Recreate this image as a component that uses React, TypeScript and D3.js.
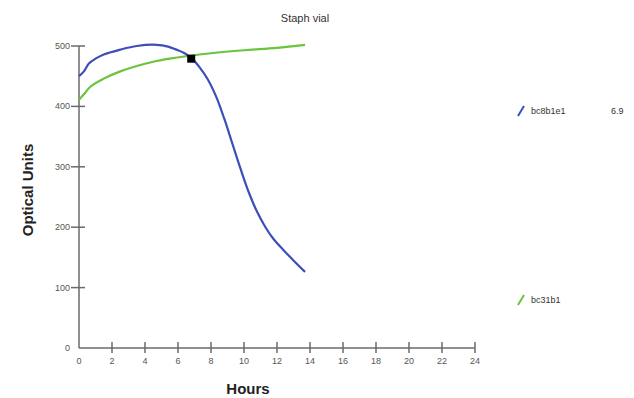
import * as d3 from "d3";

const hoursBlue = [0, 0.3, 0.6, 1.0, 1.5, 2.5, 3.5, 4.7, 5.4, 5.9, 6.4, 6.85, 7.3, 7.8, 8.3, 8.8, 9.3, 9.8, 10.3, 10.8, 11.3, 11.8, 12.4, 13.0, 13.7];
const valuesBlue = [450, 458, 471, 479, 486, 494, 500, 502, 499, 494, 488, 479, 465, 445, 417, 380, 338, 296, 257, 225, 200, 180, 162, 145, 126];
const hoursGreen = [0, 0.3, 0.7, 1.5, 2.5, 3.5, 4.5, 5.5, 6.5, 8, 10, 12, 13.7];
const valuesGreen = [411, 420, 433, 446, 458, 467, 474, 479, 483, 488, 493, 497, 502];
const xTicks = [0, 2, 4, 6, 8, 10, 12, 14, 16, 18, 20, 22, 24];
const yTicks = [0, 100, 200, 300, 400, 500];
const marker = { hour: 6.8, value: 479, label: "6.9" };
const legendNames = ["bc8b1e1", "bc31b1"];
const colors = ["#3b4fb8", "#6cc33d"];

const width = 634;
const height = 398;

export default function App() {
  const x = d3.scaleLinear([0, 24], [79, 475]);
  const y = d3.scaleLinear([0, 500], [348, 46]);
  const line = d3
    .line<[number, number]>()
    .x((d) => x(d[0]))
    .y((d) => y(d[1]))
    .curve(d3.curveCatmullRom.alpha(0.5));
  const blue = hoursBlue.map((h, i) => [h, valuesBlue[i]] as [number, number]);
  const green = hoursGreen.map((h, i) => [h, valuesGreen[i]] as [number, number]);
  const axisColor = "#6a6a6a";
  const font = "Liberation Sans, Arial, sans-serif";
  return (
    <svg
      width={width}
      height={height}
      style={{ position: "absolute", left: 0, top: 0 }}
      fontFamily={font}
    >
      <text x={305} y={22} fontSize={11} fill="#333" textAnchor="middle">
        Staph vial
      </text>
      {/* axes */}
      <line x1={x(0)} x2={x(0)} y1={y(0)} y2={y(500)} stroke={axisColor} strokeWidth={1.5} />
      <line x1={x(0)} x2={x(24)} y1={y(0)} y2={y(0)} stroke={axisColor} strokeWidth={1.5} />
      {yTicks.map((t) => (
        <g key={t}>
          {t > 0 && (
            <line x1={x(0) - 8} x2={x(0) + 6} y1={y(t)} y2={y(t)} stroke={axisColor} strokeWidth={1.5} />
          )}
          <text x={x(0) - 9} y={y(t) + 3} fontSize={9} fill="#555" textAnchor="end">
            {t}
          </text>
        </g>
      ))}
      {xTicks.map((t) => (
        <g key={t}>
          {t > 0 && (
            <line x1={x(t)} x2={x(t)} y1={y(0) - 6} y2={y(0) + 5} stroke={axisColor} strokeWidth={1.5} />
          )}
          <text x={x(t)} y={y(0) + 16} fontSize={9} fill="#555" textAnchor="middle">
            {t}
          </text>
        </g>
      ))}
      <text
        transform={`translate(33,190) rotate(-90)`}
        fontSize={15}
        fontWeight="bold"
        fill="#222"
        textAnchor="middle"
      >
        Optical Units
      </text>
      <text x={248} y={394} fontSize={15} fontWeight="bold" fill="#222" textAnchor="middle">
        Hours
      </text>
      {/* series */}
      <path d={line(green) ?? ""} fill="none" stroke={colors[1]} strokeWidth={2.2} />
      <path d={line(blue) ?? ""} fill="none" stroke={colors[0]} strokeWidth={2.2} />
      <rect x={x(marker.hour) - 4} y={y(marker.value) - 4} width={8} height={8} fill="#000" />
      {/* legend */}
      {legendNames.map((name, i) => {
        const ly = i === 0 ? 111 : 300;
        return (
          <g key={name}>
            <line x1={518} x2={524} y1={ly + 5} y2={ly - 5} stroke={colors[i]} strokeWidth={2} />
            <text x={531} y={ly + 3} fontSize={9} fill="#333">
              {name}
            </text>
          </g>
        );
      })}
      <text x={611} y={114} fontSize={9} fill="#333">
        {marker.label}
      </text>
    </svg>
  );
}
